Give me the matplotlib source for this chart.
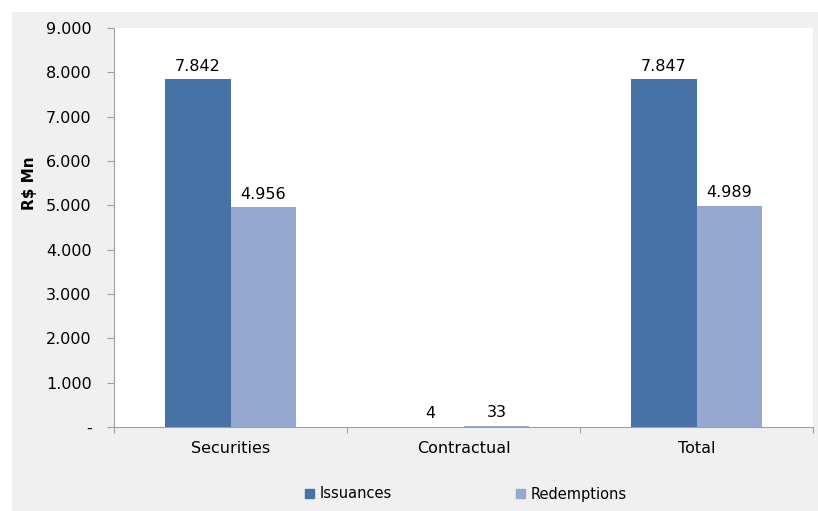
import matplotlib
matplotlib.use("Agg")
import matplotlib.pyplot as plt
from matplotlib.patches import Rectangle, Patch

# chart data
categories = ["Securities", "Contractual", "Total"]
issuances = [7842, 4, 7847]
redemptions = [4956, 33, 4989]
yticks = [0, 1000, 2000, 3000, 4000, 5000, 6000, 7000, 8000, 9000]
series_names = ["Issuances", "Redemptions"]

col_iss = "#4672A5"
col_red = "#95A8CF"
bg_gray = "#F0F0F0"
axis_gray = "#A0A0A0"


def fmt(v):
    return f"{v:,.0f}".replace(",", ".")


def main():
    plt.rcParams["font.family"] = ["DejaVu Sans"]
    W, H = 818, 511
    fig = plt.figure(figsize=(W / 100, H / 100), dpi=100)

    # outer gray panel
    fig.patches.append(Rectangle((12 / W, 0), 1 - 12 / W, 1 - 12 / H,
                                 transform=fig.transFigure, facecolor=bg_gray,
                                 edgecolor="none", zorder=-10))

    ax = fig.add_axes([114 / W, (H - 427) / H, (813 - 114) / W, (427 - 28) / H])
    ax.set_zorder(5)
    ax.set_facecolor("white")

    x = list(range(len(categories)))
    w = 0.283
    b1 = ax.bar([i - w / 2 for i in x], issuances, width=w, color=col_iss, zorder=2)
    b2 = ax.bar([i + w / 2 for i in x], redemptions, width=w, color=col_red, zorder=2)

    for bars, vals in ((b1, issuances), (b2, redemptions)):
        for r, v in zip(bars, vals):
            ax.annotate(fmt(v), (r.get_x() + r.get_width() / 2, r.get_height()),
                        xytext=(0, 4), textcoords="offset points",
                        ha="center", va="bottom", fontsize=11.5, color="black")

    ax.set_xlim(-0.5, len(categories) - 0.5)
    ax.set_ylim(0, 9000)
    ax.set_yticks(yticks)
    ax.set_yticklabels(["-"] + [fmt(v) for v in yticks[1:]], fontsize=11.5)

    # category labels between boundary ticks
    ax.set_xticks([i - 0.5 for i in range(len(categories) + 1)])
    ax.set_xticklabels([])
    ax.set_xticks(x, minor=True)
    ax.set_xticklabels(categories, minor=True, fontsize=11.5)
    ax.tick_params(axis="x", which="minor", length=0, pad=10)
    ax.tick_params(axis="x", which="major", length=4, color=axis_gray)
    ax.tick_params(axis="y", length=5, color=axis_gray, pad=11)

    for s in ("top", "right"):
        ax.spines[s].set_visible(False)
    for s in ("left", "bottom"):
        ax.spines[s].set_color(axis_gray)

    ax.set_ylabel("R\\$ Mn", fontsize=11, fontweight="bold")
    ax.yaxis.set_label_coords(-0.11, 0.61)

    handles = [Patch(color=col_iss), Patch(color=col_red)]
    fig.legend(handles, series_names, loc="center", ncol=2,
               bbox_to_anchor=(466 / W, 1 - 494 / H), frameon=False,
               fontsize=10.5, handlelength=0.6, handleheight=0.6,
               handletextpad=0.4, columnspacing=8.5)

    fig.savefig("out.png", dpi=100)


if __name__ == "__main__":
    main()
